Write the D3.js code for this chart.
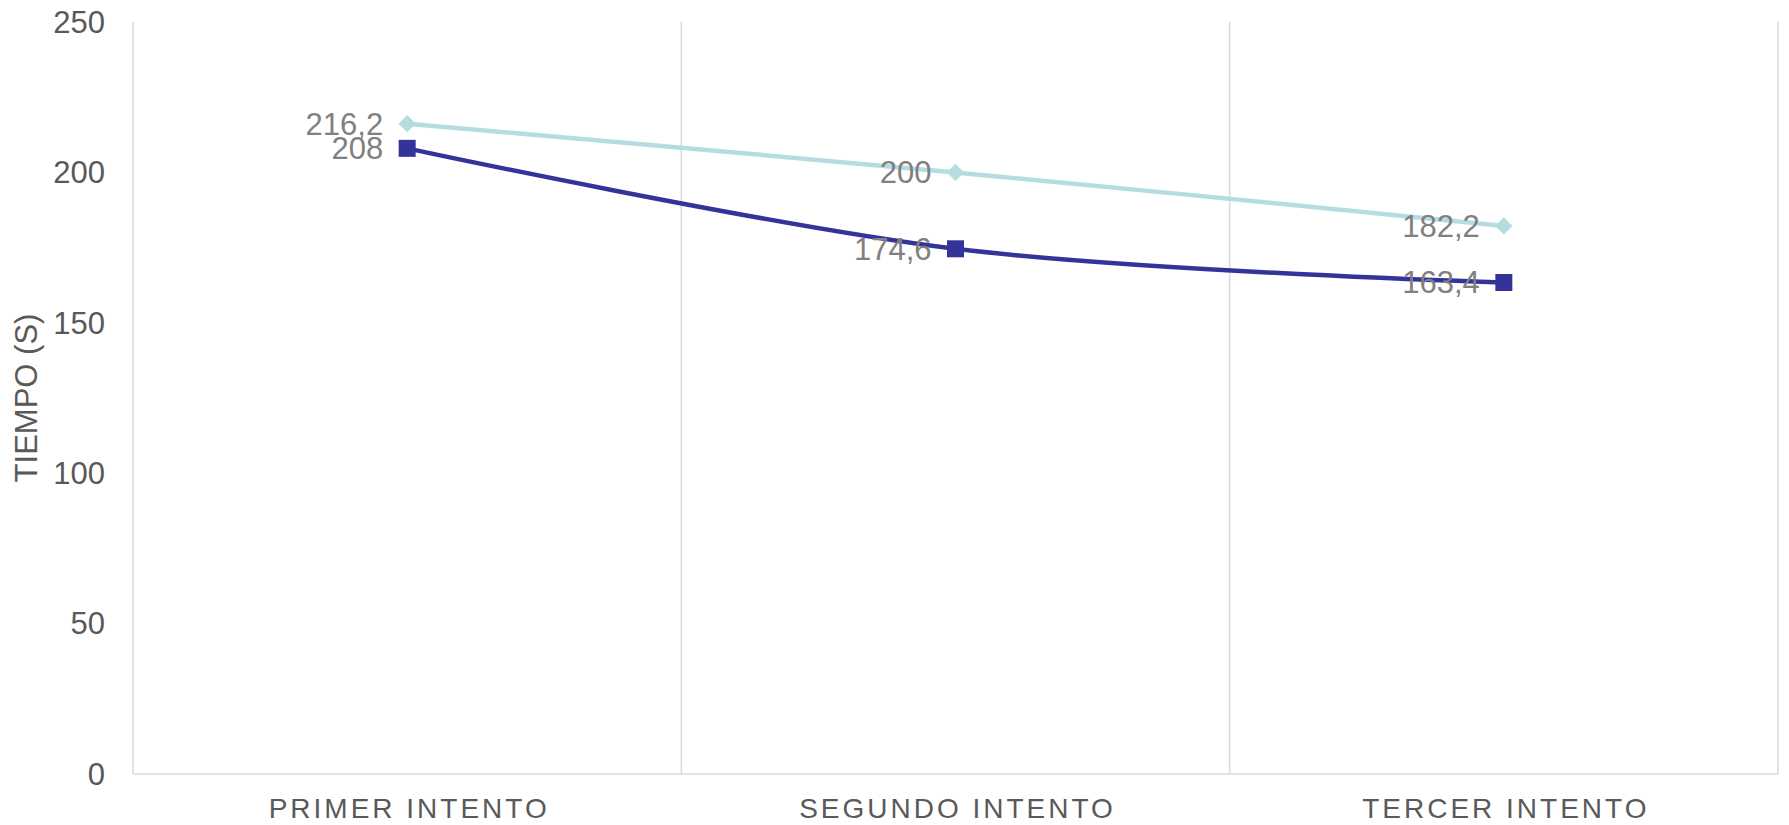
<!DOCTYPE html>
<html>
<head>
<meta charset="utf-8">
<script src="https://cdn.jsdelivr.net/npm/d3@7"></script>
<style>
  html, body { margin: 0; padding: 0; background: #fff; }
  svg { display: block; font-family: "Liberation Sans", Arial, sans-serif; }
</style>
</head>
<body>
<svg id="chart" width="1789" height="825"></svg>
<script>
// Attempts and measured times (seconds)
const categories = ["PRIMER INTENTO", "SEGUNDO INTENTO", "TERCER INTENTO"];
const seriesUpper = [216.2, 200, 182.2];
const seriesLower = [208, 174.6, 163.4];
const yTicks = [0, 50, 100, 150, 200, 250];
const yTitle = "TIEMPO (S)";

const svg = d3.select("#chart");
const margin = { left: 133, right: 11, top: 22, bottom: 51 };
const W = 1789, H = 825;
const x0 = margin.left, x1 = W - margin.right;
const yTop = margin.top, yBot = H - margin.bottom;

const xBand = d3.scaleBand().domain(categories).range([x0, x1]).padding(0);
const xPos = c => xBand(c) + xBand.bandwidth() / 2;
const y = d3.scaleLinear().domain([0, 250]).range([yBot, yTop]);

const fmt = v => String(v).replace(".", ",");

// Vertical separators between categories, plus the frame sides
const seps = categories.map(c => xBand(c)).concat([x1]);
svg.append("g").selectAll("line").data(seps).join("line")
  .attr("x1", d => d).attr("x2", d => d)
  .attr("y1", yTop).attr("y2", yBot)
  .attr("stroke", "#d9d9d9").attr("stroke-width", 1.5);

// Category axis baseline
svg.append("line")
  .attr("x1", x0).attr("x2", x1).attr("y1", yBot).attr("y2", yBot)
  .attr("stroke", "#d9d9d9").attr("stroke-width", 1.5);

// Value axis tick labels
svg.append("g").selectAll("text").data(yTicks).join("text")
  .attr("x", 105).attr("y", d => y(d))
  .attr("dy", "0.35em")
  .attr("text-anchor", "end")
  .attr("font-size", 31)
  .attr("fill", "#595959")
  .text(d => d);

// Value axis title
svg.append("text")
  .attr("transform", `translate(37, ${(yTop + yBot) / 2}) rotate(-90)`)
  .attr("text-anchor", "middle")
  .attr("font-size", 31)
  .attr("fill", "#595959")
  .text(yTitle);

// Category labels
svg.append("g").selectAll("text").data(categories).join("text")
  .attr("x", d => xPos(d) + 2).attr("y", 818)
  .attr("text-anchor", "middle")
  .attr("font-size", 28)
  .attr("letter-spacing", "3px")
  .attr("fill", "#595959")
  .text(d => d);

const line = d3.line()
  .x((d, i) => xPos(categories[i]))
  .y(d => y(d))
  .curve(d3.curveCardinal.tension(0));

// Upper series: light teal with diamonds
svg.append("path").datum(seriesUpper)
  .attr("d", line).attr("fill", "none")
  .attr("stroke", "#b4dde0").attr("stroke-width", 4.5)
  .attr("stroke-linejoin", "round");

// Lower series: dark blue with squares
svg.append("path").datum(seriesLower)
  .attr("d", line).attr("fill", "none")
  .attr("stroke", "#333399").attr("stroke-width", 4.5)
  .attr("stroke-linejoin", "round");

const diamond = d3.symbol().type(d3.symbolSquare).size(150);
svg.append("g").selectAll("path").data(seriesUpper).join("path")
  .attr("d", diamond())
  .attr("transform", (d, i) => `translate(${xPos(categories[i])},${y(d)}) rotate(45)`)
  .attr("fill", "#b4dde0");

const square = d3.symbol().type(d3.symbolSquare).size(17 * 17);
svg.append("g").selectAll("path").data(seriesLower).join("path")
  .attr("d", square())
  .attr("transform", (d, i) => `translate(${xPos(categories[i])},${y(d)})`)
  .attr("fill", "#333399");

// Data labels, to the left of each point
function labels(data) {
  svg.append("g").selectAll("text").data(data).join("text")
    .attr("x", (d, i) => xPos(categories[i]) - 24)
    .attr("y", d => y(d))
    .attr("dy", "0.35em")
    .attr("text-anchor", "end")
    .attr("font-size", 31)
    .attr("fill", "#808080")
    .text(d => fmt(d));
}
labels(seriesUpper);
labels(seriesLower);
</script>
</body>
</html>
